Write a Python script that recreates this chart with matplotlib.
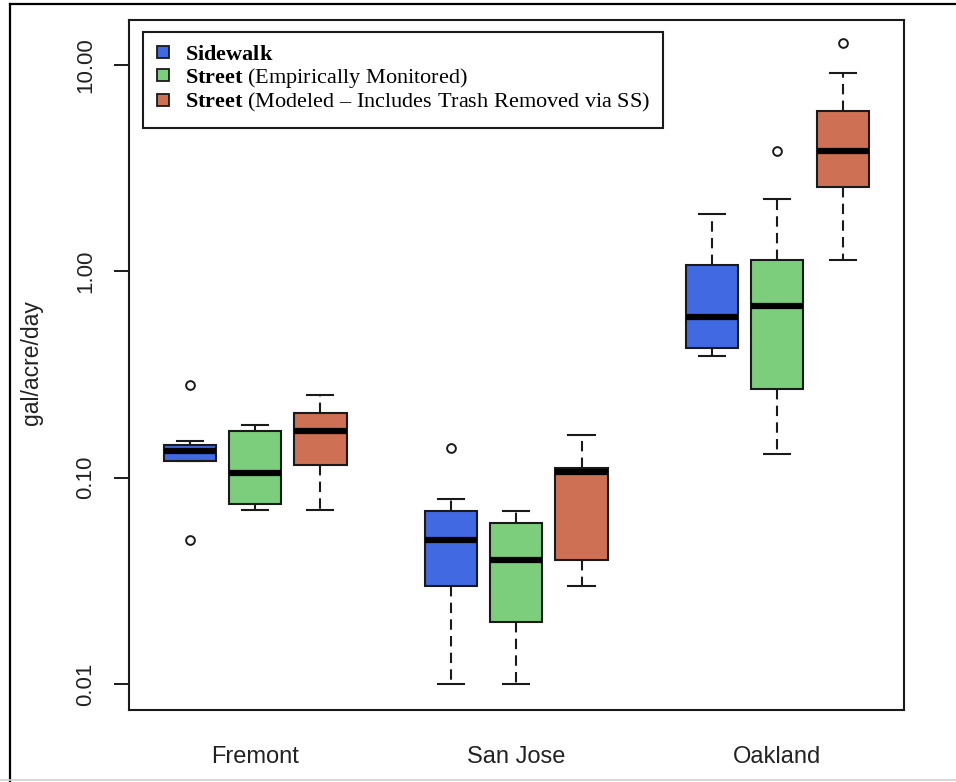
import matplotlib
matplotlib.use("Agg")
import matplotlib.pyplot as plt
from matplotlib.patches import Patch
from matplotlib.lines import Line2D

plt.rcParams['font.family'] = ['Liberation Sans', 'DejaVu Sans']
plt.rcParams['mathtext.fontset'] = 'custom'
plt.rcParams['mathtext.rm'] = 'Liberation Serif'
plt.rcParams['mathtext.bf'] = 'Liberation Serif:bold'

# ---- data (per city: [whisker low, Q1, median, Q3, whisker high]) ----
cities = ["Fremont", "San Jose", "Oakland"]
series_bold = ["Sidewalk", "Street", "Street"]
series_rest = ["", " (Empirically Monitored)", " (Modeled \u2013 Includes Trash Removed via SS)"]
series_colors = ["#4169E1", "#7CCD7C", "#CD7054"]

sidewalk = [[0.12, 0.12, 0.135, 0.144, 0.151],
            [0.01, 0.03, 0.05, 0.069, 0.079],
            [0.39, 0.427, 0.60, 1.08, 1.90]]
sidewalk_out = [[0.28, 0.05], [0.14], []]

street_emp = [[0.07, 0.075, 0.105, 0.168, 0.18],
              [0.01, 0.02, 0.04, 0.06, 0.069],
              [0.13, 0.27, 0.68, 1.14, 2.25]]
street_emp_out = [[], [], [3.85]]

street_mod = [[0.07, 0.115, 0.168, 0.206, 0.252],
              [0.03, 0.04, 0.107, 0.111, 0.161],
              [1.135, 2.58, 3.85, 6.01, 9.12]]
street_mod_out = [[], [], [12.8]]

yticks = [0.01, 0.1, 1, 10]
ytick_labels = ["0.01", "0.10", "1.00", "10.00"]

# ---- figure ----
W, H = 956, 782
fig = plt.figure(figsize=(W / 100, H / 100), dpi=100)
ax = fig.add_axes([128.5 / W, 1 - 710 / H, (904 - 128.5) / W, 690 / H])

all_series = [(sidewalk, sidewalk_out), (street_emp, street_emp_out), (street_mod, street_mod_out)]
stats, positions, colors = [], [], []
for ci in range(len(cities)):
    for si, (vals, outs) in enumerate(all_series):
        lo, q1, med, q3, hi = vals[ci]
        stats.append(dict(whislo=lo, q1=q1, med=med, q3=q3, whishi=hi, fliers=outs[ci]))
        positions.append(ci * 4 + si + 1)
        colors.append(series_colors[si])

edge = "#1a1a1a"
bp = ax.bxp(stats, positions=positions, widths=0.8, capwidths=0.4, patch_artist=True,
            boxprops=dict(edgecolor=edge, linewidth=1.5),
            medianprops=dict(color="black", linewidth=4.5, solid_capstyle="butt"),
            whiskerprops=dict(color=edge, linewidth=1.5, linestyle=(0, (5, 3))),
            capprops=dict(color=edge, linewidth=1.5),
            flierprops=dict(marker="o", markerfacecolor="none", markeredgecolor=edge,
                            markersize=6.3, markeredgewidth=1.4))
for patch, c in zip(bp["boxes"], colors):
    patch.set_facecolor(c)

ax.set_yscale("log")
ax.set_ylim(10 ** -2.126, 10 ** 1.219)
ax.set_xlim(0.06, 11.94)
ax.set_yticks(yticks)
ax.set_yticklabels(ytick_labels, rotation=90, va="center", fontsize=16, color="#222222")
ax.minorticks_off()
ax.tick_params(axis="y", length=11, width=1.4, color=edge, pad=12)
ax.set_xticks([2, 6, 10])
ax.set_xticklabels(cities, fontsize=17, color="#222222")
ax.tick_params(axis="x", length=0, pad=26)
for sp in ax.spines.values():
    sp.set_linewidth(1.5)
    sp.set_color(edge)

fig.text(32 / W, 1 - 363 / H, "gal/acre/day", rotation=90, ha="center", va="center",
         fontsize=16.5, color="#222222")

# legend
handles = [Patch(facecolor=c, edgecolor=edge, linewidth=1.3) for c in series_colors]
labels = []
for b, r in zip(series_bold, series_rest):
    labels.append(r"$\mathbf{" + b + "}$" + r)
leg = ax.legend(handles, labels, loc="upper left", bbox_to_anchor=(143 / W, 1 - 32 / H),
                bbox_transform=fig.transFigure, borderaxespad=0, fancybox=False,
                prop={"family": "Liberation Serif", "size": 16},
                handlelength=0.55, handleheight=0.45, handletextpad=0.7,
                borderpad=0.62, labelspacing=0.05, framealpha=1)
leg.get_frame().set_edgecolor(edge)
leg.get_frame().set_linewidth(1.5)

# outer frame
fig.add_artist(Line2D([9.5 / W, 1], [1 - 4 / H, 1 - 4 / H], transform=fig.transFigure,
                      color="black", linewidth=1.6))
fig.add_artist(Line2D([9.5 / W, 9.5 / W], [0, 1 - 4 / H], transform=fig.transFigure,
                      color="black", linewidth=1.6))
fig.add_artist(Line2D([0, 1], [1 - 780 / H, 1 - 780 / H], transform=fig.transFigure,
                      color="#d0d0d0", linewidth=1.2))

fig.savefig("out.png", dpi=100)
